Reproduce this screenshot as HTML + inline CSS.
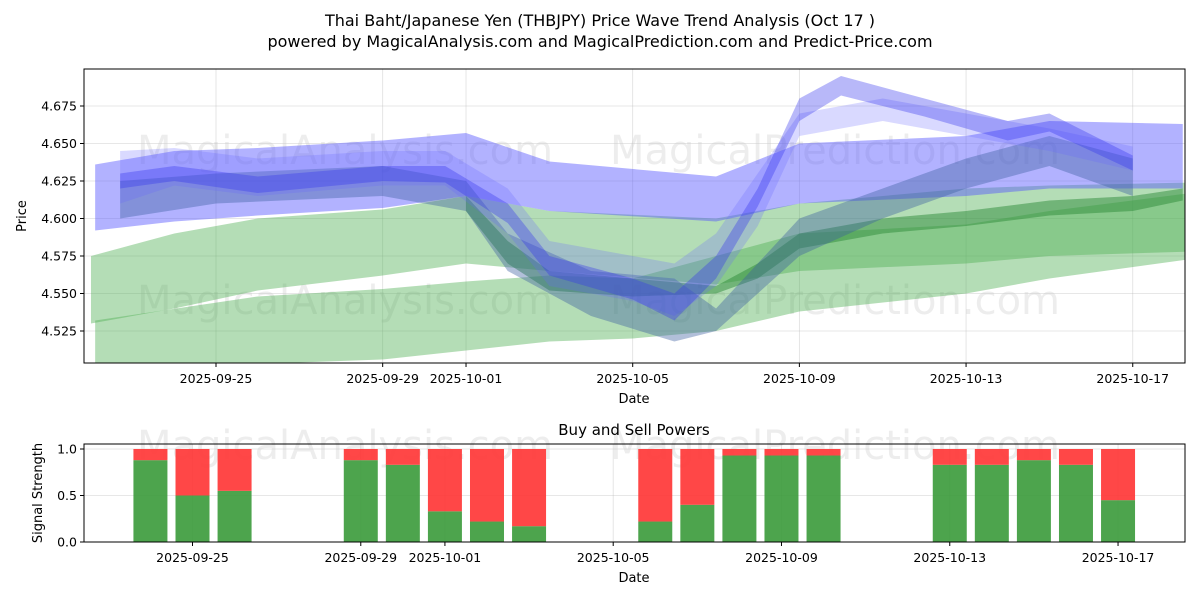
<!DOCTYPE html>
<html><head><meta charset="utf-8"><style>
body{margin:0;background:#fff;font-family:"Liberation Sans","DejaVu Sans",sans-serif}
svg text{font-family:"DejaVu Sans","Liberation Sans",sans-serif}
</style></head><body>
<svg id="c" width="1200" height="600" viewBox="0 0 1200 600"></svg>
<script>
// ---- data ----
const xTickLabels=["2025-09-25","2025-09-29","2025-10-01","2025-10-05","2025-10-09","2025-10-13","2025-10-17"];
const xTickDays=[0,4,6,10,14,18,22];
const yTicks=[4.525,4.55,4.575,4.6,4.625,4.65,4.675];
const sTicks=[0,0.5,1];
const sTickLabels=["0.0","0.5","1.0"];
const barDays=[-1,0,1,4,5,6,7,8,11,12,13,14,15,18,19,20,21,22];
const buyVals=[0.88,0.5,0.55,0.88,0.83,0.33,0.22,0.17,0.22,0.4,0.93,0.93,0.93,0.83,0.83,0.88,0.83,0.45];
// bands: days, upper, lower
const blueDays1=[-2.9,-1,1,4,6,8,12,14,18,20,23.2];
const blueUp1=[4.636,4.645,4.647,4.652,4.657,4.638,4.628,4.65,4.655,4.665,4.663];
const blueLo1=[4.592,4.598,4.602,4.607,4.615,4.605,4.598,4.61,4.615,4.62,4.62];
const blueDays2=[-2.3,-1,1,4,5.5,7,8,10,11,12,13,14,16,18,20,22];
const blueUp2=[4.645,4.647,4.64,4.645,4.645,4.62,4.585,4.575,4.57,4.59,4.63,4.67,4.68,4.67,4.66,4.648];
const blueLo2=[4.61,4.622,4.615,4.622,4.622,4.59,4.555,4.545,4.535,4.555,4.595,4.655,4.665,4.655,4.645,4.632];
const blueDays3=[-2.3,-1,1,4,5.5,7,8,10,11,12,13,14,15,17,19,20,22];
const blueUp3=[4.63,4.635,4.628,4.635,4.635,4.61,4.575,4.56,4.55,4.575,4.62,4.68,4.695,4.68,4.665,4.67,4.642];
const blueLo3=[4.62,4.625,4.617,4.625,4.624,4.597,4.562,4.546,4.532,4.56,4.608,4.665,4.682,4.668,4.652,4.658,4.632];
const blueDays4=[-2.3,0,4,6,7,9,11,12,14,16,18,20,22];
const blueUp4=[4.625,4.63,4.635,4.625,4.59,4.565,4.56,4.54,4.6,4.62,4.64,4.655,4.64];
const blueLo4=[4.6,4.61,4.615,4.605,4.565,4.535,4.518,4.525,4.575,4.6,4.62,4.635,4.615];
const greenDays1=[-3,-1,1,4,6,8,12,14,18,20,23.4];
const greenUp1=[4.575,4.59,4.6,4.606,4.615,4.605,4.6,4.61,4.62,4.622,4.624];
const greenLo1=[4.53,4.54,4.552,4.562,4.57,4.565,4.556,4.565,4.57,4.575,4.578];
const greenDays2=[-2.9,1,4,6,8,10,12,14,18,20,23.4];
const greenUp2=[4.532,4.548,4.553,4.558,4.562,4.56,4.575,4.59,4.596,4.605,4.617];
const greenLo2=[4.502,4.503,4.506,4.512,4.518,4.52,4.525,4.538,4.55,4.56,4.573];
const greenDays3=[6,7,8,10,12,13,14,16,18,20,22,23.2];
const greenUp3=[4.615,4.585,4.565,4.56,4.555,4.57,4.59,4.6,4.605,4.612,4.615,4.62];
const greenLo3=[4.605,4.57,4.552,4.548,4.55,4.56,4.58,4.59,4.595,4.602,4.605,4.612];
// ---- axes ----
const NS="http://www.w3.org/2000/svg";
const svg=document.getElementById('c');
const X0=84,X1=1185,T0=69,T1=363,B0=444,B1=542;
const xs=d=>216+d*41.67;
const xb=d=>192.5+d*42.07;
const ys=v=>106+(4.675-v)*1500;
const ss=v=>542-v*93;
function el(t,a,p){const e=document.createElementNS(NS,t);for(const k in a)e.setAttribute(k,a[k]);(p||svg).appendChild(e);return e;}
function txt(s,a){const e=el('text',a);e.textContent=s;return e;}
const clip=el('clipPath',{id:'cp'});el('rect',{x:X0,y:T0,width:X1-X0,height:T1-T0},clip);
// grid
const grid=el('g',{});


xTickDays.forEach(d=>{el('line',{x1:xs(d),x2:xs(d),y1:T0,y2:T1,stroke:'#b0b0b0','stroke-width':0.8,opacity:0.4},grid);el('line',{x1:xb(d),x2:xb(d),y1:B0,y2:B1,stroke:'#b0b0b0','stroke-width':0.8,opacity:0.4},grid);});
yTicks.forEach(v=>el('line',{x1:X0,x2:X1,y1:ys(v),y2:ys(v),stroke:'#b0b0b0','stroke-width':0.8,opacity:0.4},grid));
sTicks.forEach(v=>el('line',{x1:X0,x2:X1,y1:ss(v),y2:ss(v),stroke:'#b0b0b0','stroke-width':0.8,opacity:0.4},grid));
// watermarks
[[345,150],[835,150],[345,300],[835,300],[345,445],[835,445]].forEach((p,i)=>{const t=txt(i%2?'MagicalPrediction.com':'MagicalAnalysis.com',{x:p[0],y:p[1]+14,'font-size':40,fill:'#ccc',opacity:0.35,'text-anchor':'middle'});});
// bands
const bg=el('g',{'clip-path':'url(#cp)'});
function band(days,up,lo,col,op,name){
  let pts=days.map((d,i)=>xs(d)+','+ys(up[i]));
  pts=pts.concat(days.map((d,i)=>[d,lo[i]]).reverse().map(p=>xs(p[0])+','+ys(p[1])));
  const p=el('polygon',{points:pts.join(' '),fill:col,opacity:op,'stroke-linejoin':'round'},bg);
  
  
}
band(greenDays2,greenUp2,greenLo2,'#4caf50',0.42,'green-band-lower');
band(greenDays1,greenUp1,greenLo1,'#4caf50',0.42,'green-band-upper');
band(greenDays3,greenUp3,greenLo3,'#2e8b3a',0.5,'green-band-narrow');
band(blueDays1,blueUp1,blueLo1,'#5555ff',0.45,'blue-band-wide');
band(blueDays4,blueUp4,blueLo4,'#3d5f9f',0.4,'blue-band-dip');
band(blueDays2,blueUp2,blueLo2,'#6666ff',0.25,'blue-band-mid');
band(blueDays3,blueUp3,blueLo3,'#3333ee',0.35,'blue-band-narrow');
// bars
const barg=el('g',{});


barDays.forEach((d,i)=>{
  const w=34,x=xb(d)-w/2;
  const g=el('rect',{x:x,y:ss(buyVals[i]),width:w,height:ss(0)-ss(buyVals[i]),fill:'#3a9a3a',opacity:0.9},barg);
  
  
  const r=el('rect',{x:x,y:ss(1),width:w,height:ss(buyVals[i])-ss(1),fill:'#ff3333',opacity:0.9},barg);
  
  
});
// frames
el('rect',{x:X0,y:T0,width:X1-X0,height:T1-T0,fill:'none',stroke:'#000','stroke-width':1});
el('rect',{x:X0,y:B0,width:X1-X0,height:B1-B0,fill:'none',stroke:'#000','stroke-width':1});
// ticks
xTickDays.forEach((d,i)=>{
  el('line',{x1:xs(d),x2:xs(d),y1:T1,y2:T1+4,stroke:'#000'});
  el('line',{x1:xb(d),x2:xb(d),y1:B1,y2:B1+4,stroke:'#000'});
  const a=txt(xTickLabels[i],{x:xs(d),y:T1+20,'font-size':12.5,'text-anchor':'middle'});
  
  const b=txt(xTickLabels[i],{x:xb(d),y:B1+20,'font-size':12.5,'text-anchor':'middle'});
  
});
yTicks.forEach(v=>{el('line',{x1:X0-4,x2:X0,y1:ys(v),y2:ys(v),stroke:'#000'});const t=txt(v.toFixed(3),{x:X0-7,y:ys(v)+4.5,'font-size':12.5,'text-anchor':'end'});});
sTicks.forEach((v,i)=>{el('line',{x1:X0-4,x2:X0,y1:ss(v),y2:ss(v),stroke:'#000'});const t=txt(sTickLabels[i],{x:X0-7,y:ss(v)+4.5,'font-size':12.5,'text-anchor':'end'});});
// titles
txt('Thai Baht/Japanese Yen (THBJPY) Price Wave Trend Analysis (Oct 17 )',{x:600,y:26,'font-size':16,'text-anchor':'middle'});
txt('powered by MagicalAnalysis.com and MagicalPrediction.com and Predict-Price.com',{x:600,y:47,'font-size':16,'text-anchor':'middle'});
txt('Date',{x:634,y:403,'font-size':13,'text-anchor':'middle'});
txt('Date',{x:634,y:582,'font-size':13,'text-anchor':'middle'});
txt('Price',{x:26,y:216,'font-size':13,'text-anchor':'middle',transform:'rotate(-90 26 216)'});
txt('Signal Strength',{x:42,y:493,'font-size':13,'text-anchor':'middle',transform:'rotate(-90 42 493)'});
txt('Buy and Sell Powers',{x:634,y:435,'font-size':15,'text-anchor':'middle'});
</script>
</body></html>
